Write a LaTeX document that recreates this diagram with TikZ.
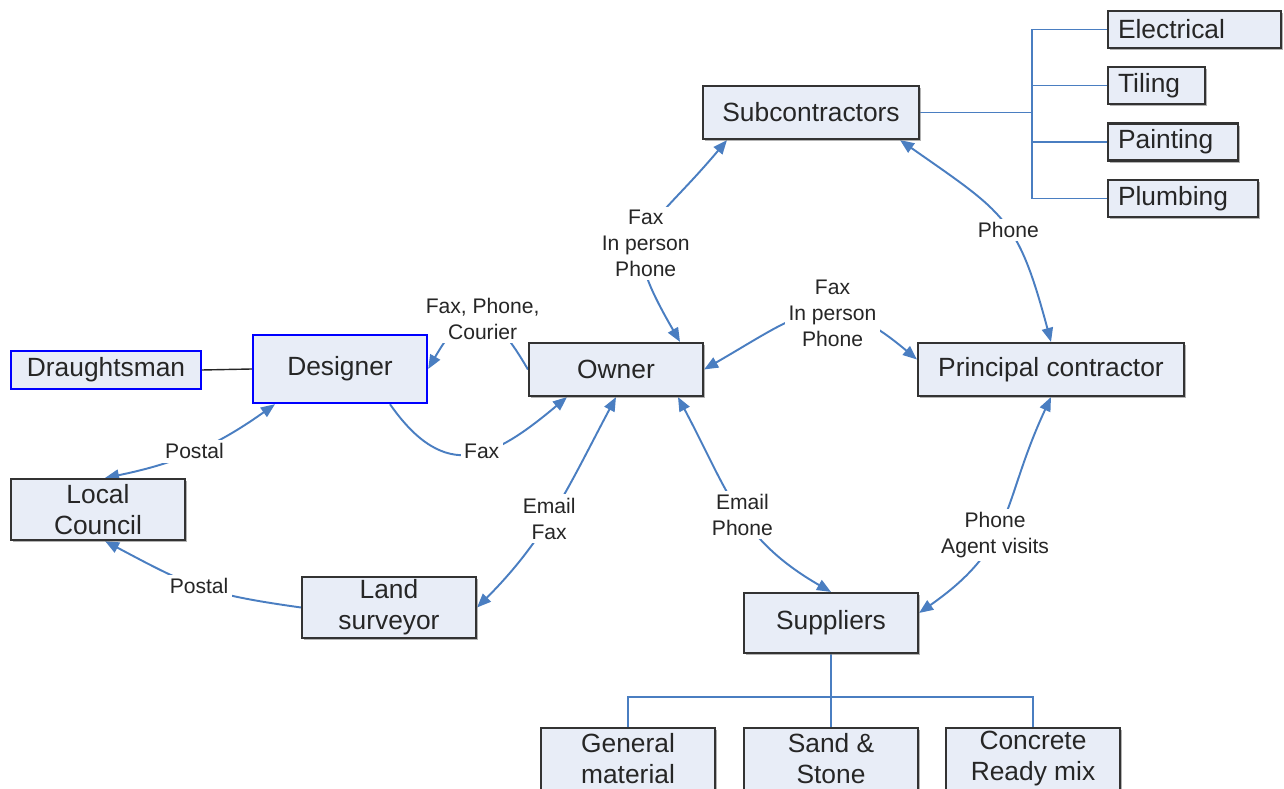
\documentclass[tikz,border=0pt]{standalone}
\usepackage{fontspec}
\setmainfont{Liberation Sans}
\usetikzlibrary{arrows.meta,shadows}
\pgfdeclarelayer{bg}
\pgfsetlayers{bg,main}
\definecolor{boxfill}{RGB}{232,237,247}
\definecolor{linkblue}{RGB}{74,126,193}
\newcommand{\boxfont}{\fontsize{7.5}{8.8}\selectfont}
\newcommand{\lblfont}{\fontsize{6}{7.4}\selectfont}

\begin{document}
\begin{tikzpicture}[>={Triangle[length=4pt,width=3.2pt]},
  box/.style={draw=black!80,line width=0.6pt,fill=boxfill,text=black!85,font=\boxfont,align=center,inner sep=0pt,
    drop shadow={shadow xshift=0.6pt,shadow yshift=-0.6pt,fill=black!50,opacity=0.6}},
  bluebox/.style={draw=blue,line width=0.7pt,fill=boxfill,text=black!85,font=\boxfont,align=center,inner sep=0pt},
  trade/.style={box,anchor=west,align=left,inner xsep=0.1cm,minimum height=0.37cm},
  link/.style={draw=linkblue,line width=0.55pt},
  lbl/.style={fill=white,inner sep=1pt,align=center,font=\lblfont,text=black!85}]
\useasboundingbox (0,0) rectangle (12.84,-7.89);
\clip (0,0) rectangle (12.84,-7.89);

% main parties
\node[box,minimum width=2.16cm,minimum height=0.53cm] (sub) at (8.11,-1.125) {Subcontractors};
\node[box,minimum width=1.74cm,minimum height=0.53cm] (owner) at (6.16,-3.695) {Owner};
\node[box,minimum width=2.66cm,minimum height=0.53cm] (pc) at (10.51,-3.695) {Principal contractor};
\node[bluebox,minimum width=1.74cm,minimum height=0.68cm] (designer) at (3.40,-3.69) {Designer};
\node[bluebox,minimum width=1.90cm,minimum height=0.38cm] (draught) at (1.06,-3.70) {Draughtsman};
\node[box,minimum width=1.74cm,minimum height=0.61cm] (council) at (0.98,-5.095) {Local\\Council};
\node[box,minimum width=1.74cm,minimum height=0.61cm] (land) at (3.89,-6.075) {Land\\surveyor};
\node[box,minimum width=1.74cm,minimum height=0.60cm] (sup) at (8.31,-6.23) {Suppliers};

% trades
\node[trade,text width=1.53cm] (elec) at (11.07,-0.295) {Electrical};
\node[trade,text width=0.77cm] (tiling) at (11.07,-0.855) {Tiling};
\node[trade,text width=1.10cm] (paint) at (11.07,-1.42) {Painting};
\node[trade,text width=1.30cm] (plumb) at (11.07,-1.985) {Plumbing};

% materials
\node[box,minimum width=1.74cm,minimum height=0.62cm] (general) at (6.28,-7.59) {General\\material};
\node[box,minimum width=1.74cm,minimum height=0.62cm] (sand) at (8.31,-7.59) {Sand \&\\Stone};
\node[box,minimum width=1.74cm,minimum height=0.62cm] (concrete) at (10.33,-7.59) {Concrete\\Ready mix};

\begin{pgfonlayer}{bg}
% trees
\coordinate (sbus) at (10.32,-1.125);
\coordinate (pbus) at (8.31,-6.97);
\draw[link] (sub.east) -- (sbus);
\foreach \n in {elec,tiling,paint,plumb}
  \draw[link] (sbus) |- (\n.west);
\draw[link] (sup.south) -- (pbus);
\foreach \n in {general,sand,concrete}
  \draw[link] (pbus) -| (\n.north);
\draw[black!85,line width=0.4pt] (draught.east) -- (designer.west);

% communication links
\draw[link,<->] ([xshift=6.4mm]owner.north) to[out=120,in=-130,looseness=1.6]
  node[lbl,pos=0.45]{Fax\\In person\\Phone} ([xshift=-8.4mm]sub.south);
\draw[link,<->] (owner.east) to[out=30,in=140,looseness=1.4]
  node[lbl,pos=0.6]{Fax\\In person\\Phone} ([yshift=1mm]pc.west);
\draw[link,<->] ([xshift=8.9mm]sub.south) to[out=-35,in=105,looseness=1.3]
  node[lbl,pos=0.55]{Phone} (pc.north);
\draw[link,<->] (pc.south) to[out=-115,in=35,looseness=1.2]
  node[lbl,pos=0.58]{Phone\\Agent visits} ([yshift=1mm]sup.east);
\draw[link,<->] ([xshift=6.2mm]owner.south) to[out=-62,in=150,looseness=1.1]
  node[lbl,pos=0.53]{Email\\Phone} (sup.north);
\draw[link,<->] (owner.south) to[out=-118,in=45]
  node[lbl,pos=0.55]{Email\\Fax} (land.east);
\draw[link,->] ([xshift=5mm]designer.south) to[out=-55,in=-140,looseness=1.4]
  node[lbl,pos=0.56]{Fax} ([xshift=-4.9mm]owner.south);
\draw[link,->] (owner.west) to[out=120,in=60,looseness=2]
  node[lbl,pos=0.45]{Fax, Phone,\\Courier} (designer.east);
\draw[link,<->] ([xshift=0.7mm]council.north) to[bend right=12]
  node[lbl]{Postal} ([xshift=-6.5mm]designer.south);
\draw[link,->] (land.west) to[out=172,in=-28,looseness=1.2]
  node[lbl]{Postal} ([xshift=0.7mm]council.south);
\end{pgfonlayer}
\end{tikzpicture}
\end{document}
